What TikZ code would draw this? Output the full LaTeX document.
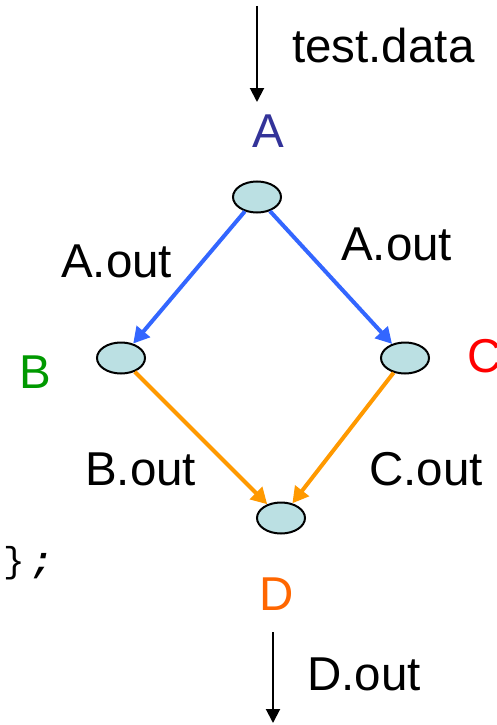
\documentclass[tikz,border=0pt]{standalone}
\usepackage{fontspec}
\setmainfont{Liberation Sans}
\newfontfamily\monofont{Liberation Mono}
\usetikzlibrary{arrows.meta,shapes.geometric}
\definecolor{nodefill}{RGB}{187,224,227}
\definecolor{ablue}{RGB}{51,102,255}
\definecolor{aorange}{RGB}{255,153,0}
\definecolor{labA}{RGB}{51,51,153}
\definecolor{labB}{RGB}{0,153,0}
\definecolor{labC}{RGB}{255,0,0}
\definecolor{labD}{RGB}{255,102,0}
\tikzset{
  task/.style={ellipse, draw=black, line width=2pt, fill=nodefill, minimum width=48pt, minimum height=31pt, inner sep=0pt},
  bigtext/.style={font=\fontsize{47.5}{52}\selectfont, inner sep=0pt, anchor=base west},
  bluearrow/.style={draw=ablue, line width=4pt, -{Triangle[length=16pt,width=17pt]}},
  orangearrow/.style={draw=aorange, line width=4pt, -{Triangle[length=16pt,width=17pt]}},
  blackarrow/.style={draw=black, line width=2pt, -{Triangle[length=14pt,width=14pt]}}
}
\begin{document}
\begin{tikzpicture}[x=1pt,y=-1pt]
\useasboundingbox (0,0) rectangle (497,725);
\node[task] (A) at (257,197) {};
\node[task] (B) at (121,358) {};
\node[task] (C) at (405,358) {};
\node[task] (D) at (281,518) {};
\coordinate (inTop) at (257,6);
\coordinate (inEnd) at (257,102);
\coordinate (outTop) at (273,632);
\coordinate (outEnd) at (273,723);
\draw[blackarrow] (inTop) -- (inEnd);
\draw[blackarrow] (outTop) -- (outEnd);
\draw[bluearrow] (A) -- (B);
\draw[bluearrow] (A) -- (C);
\draw[orangearrow] (B) -- (D);
\draw[orangearrow] (C) -- (D);
\node[bigtext] (ltest) at (292,63) {test.data};
\node[bigtext] (laoutl) at (61,277) {A.out};
\node[bigtext] (laoutr) at (341,260) {A.out};
\node[bigtext] (lbout) at (85,485) {B.out};
\node[bigtext] (lcout) at (369,485) {C.out};
\node[bigtext] (ldout) at (307,690) {D.out};
\node[bigtext, text=labA, anchor=base] (lA) at (268,147) {A};
\node[bigtext, text=labB] (lB) at (19,388) {B};
\node[bigtext, text=labC] (lC) at (467,372) {C};
\node[bigtext, text=labD] (lD) at (259,610) {D};
\node[font=\monofont\fontsize{36}{40}\selectfont, inner sep=0pt, anchor=base west] (lbrace) at (3,572) {\}\hspace{7pt}\textbf{\textit{;}}};
\end{tikzpicture}
\end{document}
